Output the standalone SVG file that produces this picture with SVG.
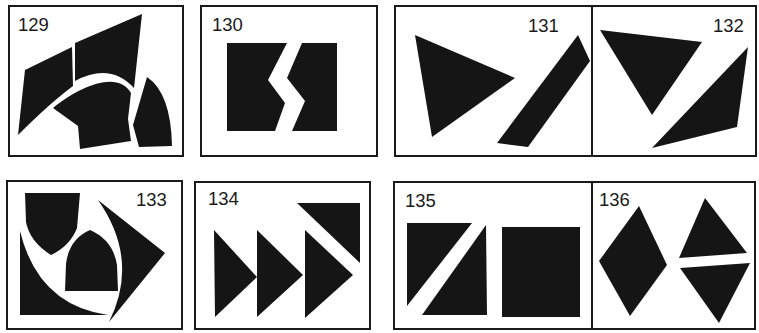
<svg xmlns="http://www.w3.org/2000/svg" width="759" height="333" viewBox="0 0 759 333">
<style>
.box{fill:none;stroke:#1a1a1a;stroke-width:2}
.s{fill:#151515}
.lbl{font-family:"Liberation Sans",Arial,sans-serif;font-size:18.5px;fill:#1a1a1a}
</style>
<rect width="759" height="333" fill="#fff"/>
<g id="p129">
<rect class="box" x="9" y="6" width="174" height="150"/>
<text class="lbl" x="18" y="31">129</text>
<path class="s" d="M25,70 L72,47 L73,86 Q50,103 18,135 Z"/>
<path class="s" d="M75,43 L142,14 L134,88 Q110,62 75,81 Z"/>
<path class="s" d="M53,108 C80,86 118,70 131,93 L128,119 L131,141 L80,149 L78,126 Z"/>
<path class="s" d="M147,77 Q171,93 172,146 L139,147 L133,125 Z"/>
</g>
<g id="p130">
<rect class="box" x="201" y="6" width="176" height="150"/>
<text class="lbl" x="212" y="31">130</text>
<path class="s" d="M227,43 L287,43 L268,80 L285,103 L275,131 L227,131 Z"/>
<path class="s" d="M302,43 L337,43 L337,131 L292,131 L305,101 L287,78 Z"/>
</g>
<g id="p131">
<rect class="box" x="395" y="6" width="197" height="150"/>
<text class="lbl" x="528" y="32">131</text>
<path class="s" d="M415,35 L515,78 L432,137 Z"/>
<path class="s" d="M578,35 L590,61 L528,147 L497,143 Z"/>
</g>
<g id="p132">
<rect class="box" x="592" y="6" width="164" height="150"/>
<text class="lbl" x="713" y="32">132</text>
<path class="s" d="M600,30 L702,42 L652,115 Z"/>
<path class="s" d="M748,47 L737,127 L652,148 Z"/>
</g>
<g id="p133">
<rect class="box" x="7" y="181" width="175" height="148"/>
<text class="lbl" x="136" y="206">133</text>
<path class="s" d="M25,193 L80,193 L77,228 Q70,246 51,255 Q30,242 26,222 Z"/>
<path class="s" d="M20,231 Q38,305 108,315 L20,315 Z"/>
<path class="s" d="M65,291 L66,264 Q69,239 90,230 Q113,240 117,265 L118,291 Z"/>
<path class="s" d="M98,200 L165,253 L109,322 Q140,260 98,200 Z"/>
</g>
<g id="p134">
<rect class="box" x="195" y="182" width="175" height="147"/>
<text class="lbl" x="208" y="205">134</text>
<path class="s" d="M214,230 L257,277 L215,317 Z"/>
<path class="s" d="M257,230 L303,275 L257,317 Z"/>
<path class="s" d="M305,230 L353,275 L305,318 Z"/>
<path class="s" d="M297,203 L360,203 L360,263 Z"/>
</g>
<g id="p135">
<rect class="box" x="394" y="182" width="198" height="147"/>
<text class="lbl" x="405" y="207">135</text>
<path class="s" d="M407,223 L472,223 L407,306 Z"/>
<path class="s" d="M486,225 L487,315 L422,315 Z"/>
<rect class="s" x="502" y="227" width="78" height="90"/>
</g>
<g id="p136">
<rect class="box" x="592" y="182" width="163" height="147"/>
<text class="lbl" x="599" y="206">136</text>
<path class="s" d="M639,206 L667,265 L630,316 L599,261 Z"/>
<path class="s" d="M705,198 L747,253 L679,258 Z"/>
<path class="s" d="M680,268 L750,263 L719,323 Z"/>
</g>
</svg>
